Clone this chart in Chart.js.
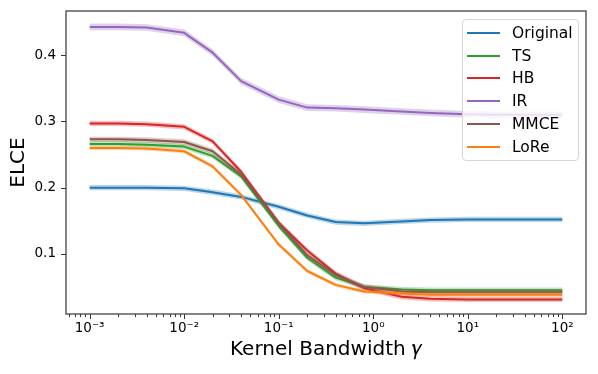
<!DOCTYPE html>
<html><head><meta charset="utf-8">
<script src="https://cdn.jsdelivr.net/npm/chart.js@4/dist/chart.umd.min.js"></script>
<style>
html,body{margin:0;padding:0;background:#fff;}
#wrap{position:relative;width:598px;height:374px;overflow:hidden;}
canvas{display:block;}
#legend{position:absolute;left:462px;top:19px;width:115px;height:140px;border:1px solid #d6d6d6;border-radius:4px;background:rgba(255,255,255,0.8);font-family:"DejaVu Sans";font-size:15.5px;}
.row{position:absolute;left:0;height:22px;display:flex;align-items:center;}
.sw{width:33px;height:2px;margin-left:4px;}
.lb{margin-left:12px;color:#000;white-space:nowrap;line-height:22px;}
</style></head>
<body>
<div id="wrap"><canvas id="c" width="598" height="374"></canvas><div id="legend"></div></div>
<script>
// ---- data ----
const gammas = [0.001, 0.002, 0.004, 0.01, 0.02, 0.04, 0.1, 0.2, 0.4, 0.8, 2, 4, 10, 20, 40, 100];
const seriesNames = ['Original', 'TS', 'HB', 'IR', 'MMCE', 'LoRe'];
const original = [0.200, 0.200, 0.200, 0.199, 0.193, 0.186, 0.171, 0.158, 0.148, 0.146, 0.149, 0.151, 0.152, 0.152, 0.152, 0.152];
const ts       = [0.266, 0.266, 0.265, 0.262, 0.248, 0.217, 0.142, 0.094, 0.064, 0.050, 0.046, 0.045, 0.045, 0.045, 0.045, 0.045];
const hb       = [0.297, 0.297, 0.296, 0.292, 0.270, 0.224, 0.147, 0.105, 0.070, 0.048, 0.035, 0.032, 0.031, 0.031, 0.031, 0.031];
const ir       = [0.443, 0.443, 0.442, 0.434, 0.404, 0.361, 0.333, 0.321, 0.320, 0.318, 0.315, 0.313, 0.311, 0.310, 0.310, 0.310];
const mmce     = [0.273, 0.273, 0.272, 0.269, 0.255, 0.220, 0.146, 0.098, 0.068, 0.050, 0.043, 0.042, 0.042, 0.042, 0.042, 0.042];
const lore     = [0.260, 0.260, 0.259, 0.255, 0.232, 0.189, 0.114, 0.074, 0.053, 0.043, 0.040, 0.038, 0.038, 0.038, 0.038, 0.038];
// half-width of the shaded band per series
const bandOriginal = 0.004, bandTS = 0.004, bandHB = 0.004, bandIR = 0.005, bandMMCE = 0.004, bandLoRe = 0.003;
const xTickValues = [0.001, 0.01, 0.1, 1, 10, 100];
const xTickLabels = ['10\u207B\u00B3', '10\u207B\u00B2', '10\u207B\u00B9', '10\u2070', '10\u00B9', '10\u00B2'];
const yTickValues = [0.1, 0.2, 0.3, 0.4];
const yTickLabels = ['0.1', '0.2', '0.3', '0.4'];

// ---- styling ----
const seriesValues = [original, ts, hb, ir, mmce, lore];
const seriesBands = [bandOriginal, bandTS, bandHB, bandIR, bandMMCE, bandLoRe];
const colors = ['#1f77b4', '#2ca02c', '#d62728', '#9467bd', '#8c564b', '#ff7f0e'];
const fills = ['rgba(31,119,180,0.3)', 'rgba(44,160,44,0.3)', 'rgba(214,39,40,0.3)', 'rgba(148,103,189,0.3)', 'rgba(140,86,75,0.3)', 'rgba(255,127,14,0.3)'];

Chart.defaults.font.family = 'DejaVu Sans';
Chart.defaults.color = '#000';

const datasets = [];
seriesValues.forEach((vals, k) => {
  const b = seriesBands[k];
  datasets.push({
    label: seriesNames[k] + ' upper', data: vals.map((v, i) => ({x: gammas[i], y: v + b})),
    borderWidth: 0, pointRadius: 0, fill: '+1', backgroundColor: fills[k], borderColor: 'transparent',
    order: 1000 - k * 3, tension: 0
  });
  datasets.push({
    label: seriesNames[k] + ' lower', data: vals.map((v, i) => ({x: gammas[i], y: v - b})),
    borderWidth: 0, pointRadius: 0, fill: false, borderColor: 'transparent',
    order: 1000 - k * 3 - 1, tension: 0
  });
  datasets.push({
    label: seriesNames[k], data: vals.map((v, i) => ({x: gammas[i], y: v})),
    borderWidth: 2, pointRadius: 0, fill: false, borderColor: colors[k],
    order: 1000 - k * 3 - 2, tension: 0, borderJoinStyle: 'round', borderCapStyle: 'butt'
  });
});

const frame = {
  id: 'frame',
  afterDatasetsDraw(chart) {
    const {ctx, chartArea: a, scales: {x, y}} = chart;
    ctx.save();
    ctx.strokeStyle = '#333';
    ctx.lineWidth = 1;
    ctx.beginPath();
    for (let e = -4; e <= 2; e++) {
      for (let m = 1; m <= 9; m++) {
        const v = m * Math.pow(10, e);
        if (v < x.min || v > x.max) continue;
        const px = Math.round(x.getPixelForValue(v)) + 0.5;
        const len = m === 1 ? 5 : 3;
        ctx.moveTo(px, a.bottom);
        ctx.lineTo(px, a.bottom + len);
      }
    }
    yTickValues.forEach(v => {
      const py = Math.round(y.getPixelForValue(v)) + 0.5;
      ctx.moveTo(a.left, py);
      ctx.lineTo(a.left - 5, py);
    });
    ctx.stroke();
    ctx.strokeStyle = '#444';
    ctx.lineWidth = 1.3;
    ctx.strokeRect(a.left, a.top, a.right - a.left, a.bottom - a.top);
    ctx.restore();
  }
};

new Chart(document.getElementById('c'), {
  type: 'line',
  data: {datasets},
  options: {
    responsive: false, animation: false, devicePixelRatio: 1,
    layout: {padding: {left: 0, right: 12, top: 11, bottom: 0}},
    plugins: {legend: {display: false}, tooltip: {enabled: false}, filler: {propagate: false}},
    scales: {
      x: {
        type: 'logarithmic', min: Math.pow(10, -3.25), max: Math.pow(10, 2.25),
        afterBuildTicks: s => { s.ticks = xTickValues.map(v => ({value: v, major: true})); },
        ticks: {callback: (v, i) => xTickLabels[i], font: {size: 13.5}, color: '#000', padding: 6, maxRotation: 0, autoSkip: false},
        grid: {display: false, drawTicks: false}, border: {display: false},
        title: {display: true, text: 'Kernel Bandwidth \uD835\uDEFE', font: {size: 20}, color: '#000', padding: {top: 0, bottom: 12}},
        afterFit: s => { s.height = 60; s.paddingLeft = 0; s.paddingRight = 0; }
      },
      y: {
        type: 'linear', min: 0.009, max: 0.467,
        afterBuildTicks: s => { s.ticks = yTickValues.map(v => ({value: v})); },
        ticks: {callback: (v, i) => yTickLabels[i], font: {size: 13.5}, color: '#000', padding: 10},
        grid: {display: false, drawTicks: false}, border: {display: false},
        title: {display: true, text: 'ELCE', font: {size: 20}, color: '#000', padding: {top: 7, bottom: 0}},
        afterFit: s => { s.width = 66; s.paddingTop = 0; s.paddingBottom = 0; }
      }
    }
  },
  plugins: [frame]
});

// legend (HTML)
const leg = document.getElementById('legend');
seriesNames.forEach((name, k) => {
  const row = document.createElement('div');
  row.className = 'row';
  row.style.top = (1.7 + 22.8 * k) + 'px';
  const sw = document.createElement('div');
  sw.className = 'sw';
  sw.style.background = colors[k];
  const lb = document.createElement('span');
  lb.className = 'lb';
  lb.textContent = name;
  row.appendChild(sw); row.appendChild(lb);
  leg.appendChild(row);
});
</script>
</body></html>
